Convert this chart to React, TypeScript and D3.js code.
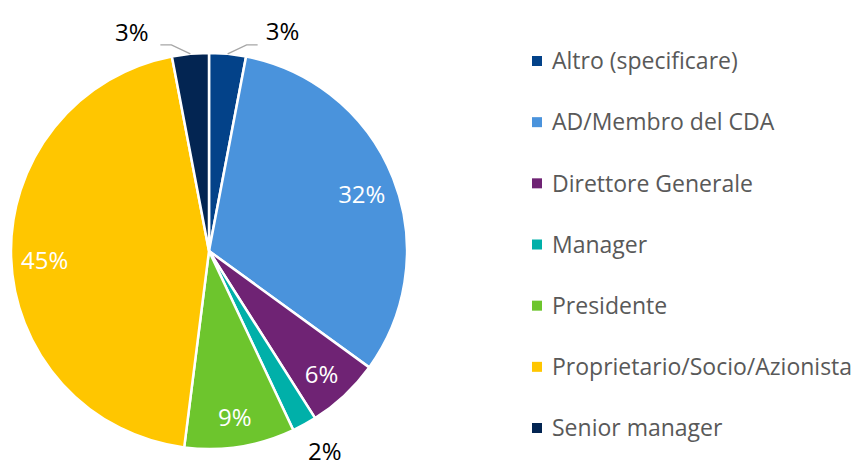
import * as React from "react";
import * as d3 from "d3";

const categories = [
  "Altro (specificare)",
  "AD/Membro del CDA",
  "Direttore Generale",
  "Manager",
  "Presidente",
  "Proprietario/Socio/Azionista",
  "Senior manager",
];
const shares = [3, 32, 6, 2, 9, 45, 3];
const colors = ["#034289", "#4a93dc", "#6f2374", "#00b0a9", "#6dc52d", "#ffc600", "#032552"];
// labels placed outside the pie (Excel best-fit); angle in degrees from 12 o'clock
const outsideLabels: Record<number, { angle: number; leader: boolean }> = {
  0: { angle: 18.5, leader: true },
  3: { angle: 150, leader: false },
  6: { angle: -19.5, leader: true },
};

const W = 860;
const H = 467;
const cx = 209;
const cy = 251;
const R = 198;
const FONT = "'Open Sans', sans-serif";

export default function App() {
  const pie = d3.pie<number>().sort(null).value((d) => d);
  const arcs = pie(shares);
  const arc = d3.arc<d3.PieArcDatum<number>>().innerRadius(0).outerRadius(R);
  const labelArc = d3.arc<d3.PieArcDatum<number>>().innerRadius(R * 0.83).outerRadius(R * 0.83);

  const legendY = d3.scalePoint<string>().domain(categories).range([61, 428]);

  const polar = (deg: number, r: number): [number, number] => {
    const a = (deg * Math.PI) / 180;
    return [r * Math.sin(a), -r * Math.cos(a)];
  };

  return (
    <svg width={W} height={H} style={{ position: "absolute", left: 0, top: 0, background: "#fff" }}>
      <g transform={`translate(${cx},${cy})`}>
        {arcs.map((a, i) => (
          <path key={i} d={arc(a) || ""} fill={colors[i]} stroke="#fff" strokeWidth={2.5} strokeLinejoin="miter" />
        ))}
        {arcs.map((a, i) => {
          const o = outsideLabels[i];
          if (!o) {
            const [x, y] = labelArc.centroid(a);
            return (
              <text key={i} x={x} y={y + 4} dy="0.36em" textAnchor="middle" fill="#fff" fontSize={24} fontFamily={FONT}>
                {shares[i]}%
              </text>
            );
          }
          const [lx, ly] = polar(o.angle, R * 1.17);
          const mid = ((a.startAngle + a.endAngle) / 2) * (180 / Math.PI);
          const [sx, sy] = polar(mid, R);
          const side = o.angle >= 0 ? 1 : -1;
          const ex = sx + side * 19;
          const ey = sy - 9;
          const hx = ex + side * 11;
          return (
            <g key={i}>
              {o.leader && (
                <polyline points={`${sx},${sy} ${ex},${ey} ${hx},${ey}`} fill="none" stroke="#a6a6a6" strokeWidth={1.3} />
              )}
              <text x={lx} y={ly} dy="0.36em" textAnchor="middle" fill="#000" fontSize={24} fontFamily={FONT}>
                {shares[i]}%
              </text>
            </g>
          );
        })}
      </g>
      <g>
        {categories.map((c, i) => (
          <g key={c} transform={`translate(532,${legendY(c)})`}>
            <rect x={0} y={-5} width={10} height={10} fill={colors[i]} />
            <text x={20} y={0} dy="0.36em" fontSize={23} fill="#595959" fontFamily={FONT}>
              {c}
            </text>
          </g>
        ))}
      </g>
    </svg>
  );
}
